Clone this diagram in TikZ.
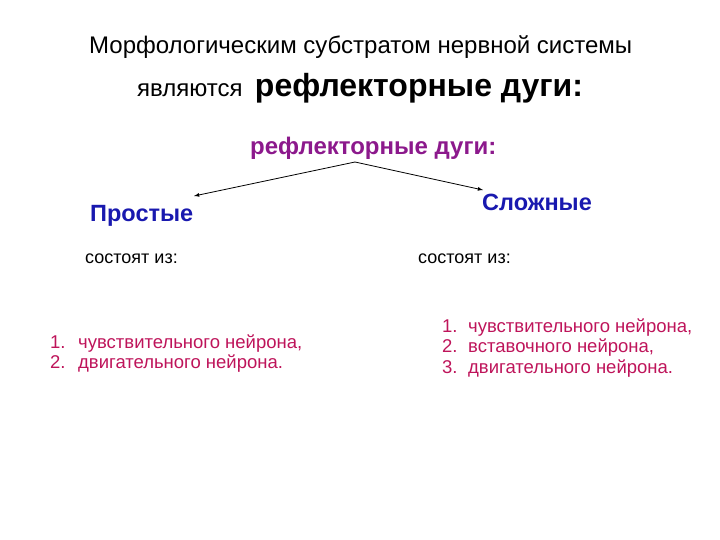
\documentclass[tikz,border=0pt]{standalone}
\usepackage{fontspec}
\setmainfont{Liberation Sans}
\usetikzlibrary{positioning}
\definecolor{arcpurple}{RGB}{140,25,140}
\definecolor{kindblue}{RGB}{25,25,175}
\definecolor{itempink}{RGB}{190,20,90}
\tikzset{
  plain/.style={inner sep=0pt, anchor=base west, font=\fontsize{18}{21}\selectfont},
  kind/.style={inner sep=0pt, anchor=base west, text=kindblue, font=\fontsize{23.5}{28}\selectfont\bfseries},
  item/.style={inner sep=0pt, anchor=base west, text=itempink, font=\fontsize{18.5}{22}\selectfont},
  branch/.style={-latex, thick}
}
\begin{document}
\begin{tikzpicture}[x=1pt,y=-1pt]
\useasboundingbox (0,0) rectangle (720,540);
% header
\node[plain, font=\fontsize{24}{28}\selectfont] (head) at (89,54) {Морфологическим субстратом нервной системы};
\node[plain, font=\fontsize{24}{28}\selectfont] (are) at (137,97) {являются};
\node[plain, font=\fontsize{32}{38}\selectfont\bfseries, right=12pt of are.base east, anchor=base west] (arcs) {рефлекторные дуги:};
% middle title
\node[plain, text=arcpurple, font=\fontsize{24}{28}\selectfont\bfseries] (arcsub) at (250,155) {рефлекторные дуги:};
\coordinate (split) at (355,162);
% two kinds
\node[kind] (simple) at (90,222) {Простые};
\node[kind] (complex) at (482,211) {Сложные};
\draw[branch] (split) -- (194,196);
\draw[branch] (split) -- (483,190);
\node[plain] (consistL) at (85,263) {состоят из:};
\node[plain] (consistR) at (418,263) {состоят из:};
% lists
\foreach \n/\txt [count=\i] in {1/{чувствительного нейрона,},2/{двигательного нейрона.}}{
  \node[item] (lnum\i) at (50,348+20*\i-20) {\n.};
  \node[item] (litem\i) at (78,348+20*\i-20) {\txt};
}
\foreach \n/\txt [count=\i] in {1/{чувствительного нейрона,},2/{вставочного нейрона,},3/{двигательного нейрона.}}{
  \node[item] (rnum\i) at (442,332+20.5*\i-20.5) {\n.};
  \node[item] (ritem\i) at (468,332+20.5*\i-20.5) {\txt};
}
\end{tikzpicture}
\end{document}
